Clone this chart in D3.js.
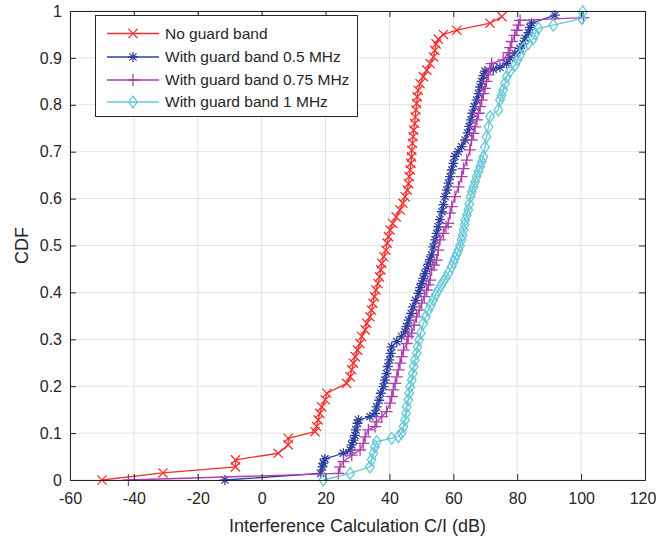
<!DOCTYPE html>
<html>
<head>
<meta charset="utf-8">
<script src="https://cdn.jsdelivr.net/npm/d3@7"></script>
<style>
  html, body { margin: 0; padding: 0; background: #fff; }
  svg { display: block; font-family: "Liberation Sans", Arial, sans-serif; }
</style>
</head>
<body>
<svg id="chart" width="656" height="544"></svg>
<script>
// ---------- DATA ----------
const xTicks = [-60, -40, -20, 0, 20, 40, 60, 80, 100, 120];
const xTickLabels = ["-60", "-40", "-20", "0", "20", "40", "60", "80", "100", "120"];
const yTicks = [0, 0.1, 0.2, 0.3, 0.4, 0.5, 0.6, 0.7, 0.8, 0.9, 1];
const yTickLabels = ["0", "0.1", "0.2", "0.3", "0.4", "0.5", "0.6", "0.7", "0.8", "0.9", "1"];

const seriesNames = ["No guard band", "With guard band 0.5 MHz", "With guard band 0.75 MHz", "With guard band 1 MHz"];

const noGuardX = [-50, -30.9, -8.2, -8.2, 5.2, 8.3, 8.3, 16.7, 17.2, 17.7, 18.2, 18.8, 19.9, 20.4,
  26.6, 27.7, 28.2, 28.7, 29.3, 30.0, 30.8, 31.3, 32.4, 32.9, 33.9, 34.4, 34.8, 35.3, 35.8, 36.4,
  36.9, 37.3, 37.6, 38.2, 38.9, 39.3, 39.7, 40.2, 41.0, 42.1, 43.3, 44.2, 44.9, 45.6, 46.0, 46.2,
  46.5, 46.7, 46.9, 47.0, 47.2, 47.4, 47.6, 47.9, 48.1, 48.3, 48.5, 48.7, 49.0, 49.6, 50.6, 51.7,
  52.7, 53.8, 54.2, 54.6, 55.3, 56.9, 61.1, 71.5, 75.2];
const noGuardCdf = [0, 0.015, 0.028, 0.043, 0.057, 0.075, 0.089, 0.103, 0.114, 0.128, 0.142, 0.156, 0.171, 0.185,
  0.206, 0.22, 0.235, 0.249, 0.263, 0.277, 0.291, 0.306, 0.32, 0.334, 0.348, 0.362, 0.377, 0.391, 0.405, 0.419,
  0.433, 0.448, 0.462, 0.476, 0.49, 0.505, 0.519, 0.533, 0.547, 0.561, 0.576, 0.59, 0.604, 0.618, 0.632, 0.647,
  0.661, 0.675, 0.689, 0.703, 0.718, 0.732, 0.746, 0.76, 0.774, 0.789, 0.803, 0.817, 0.831, 0.845, 0.86, 0.874,
  0.888, 0.902, 0.916, 0.93, 0.94, 0.95, 0.959, 0.974, 0.988];

const guard05X = [-11.5, 18.5, 19.0, 19.3, 19.8, 25.6, 27.7, 28.2, 28.7, 29.2, 29.5, 30.0, 30.3, 33.9,
  35.5, 36.0, 36.8, 37.3, 38.1, 38.6, 39.1, 39.5, 40.0, 40.4, 40.7, 42.3, 43.8, 44.9, 45.4, 46.0,
  46.8, 47.4, 48.2, 49.1, 49.6, 50.1, 50.6, 51.1, 51.7, 52.2, 52.7, 53.2, 53.7, 54.3, 54.8, 55.3,
  55.8, 56.4, 56.9, 57.4, 58.0, 58.5, 59.0, 59.5, 60.0, 60.5, 61.5, 62.6, 63.7, 64.5, 65.0, 65.5,
  66.0, 66.6, 67.3, 67.9, 68.4, 68.9, 69.4, 69.9, 72.5, 74.6, 76.7, 77.7, 79.3, 80.9, 81.9, 82.5,
  83.5, 84.0, 84.5, 91.8];
const guard05Cdf = [0, 0.014, 0.028, 0.036, 0.045, 0.057, 0.064, 0.075, 0.085, 0.095, 0.107, 0.121, 0.128, 0.135,
  0.142, 0.156, 0.17, 0.185, 0.199, 0.213, 0.227, 0.242, 0.256, 0.27, 0.284, 0.295, 0.306, 0.316, 0.327, 0.341,
  0.355, 0.369, 0.383, 0.398, 0.41, 0.419, 0.43, 0.44, 0.45, 0.46, 0.47, 0.48, 0.497, 0.512, 0.526, 0.54,
  0.555, 0.572, 0.587, 0.604, 0.618, 0.633, 0.647, 0.661, 0.675, 0.69, 0.70, 0.711, 0.725, 0.74, 0.754, 0.768,
  0.782, 0.796, 0.81, 0.824, 0.838, 0.85, 0.862, 0.872, 0.876, 0.88, 0.888, 0.9, 0.91, 0.92, 0.93, 0.942,
  0.954, 0.965, 0.974, 0.991];

const guard075X = [-41.7, 24.0, 24.5, 25.6, 28.2, 30.8, 31.8, 32.4, 33.4, 35.5, 36.0, 37.6, 39.1, 40.2,
  40.7, 41.2, 41.8, 42.3, 42.8, 43.3, 43.8, 44.4, 45.4, 45.9, 47.0, 47.7, 48.5, 49.3, 50.1, 50.9,
  51.7, 52.2, 52.7, 53.2, 54.0, 54.8, 55.3, 55.8, 56.9, 57.7, 58.4, 59.0, 59.5, 60.5, 61.6, 62.6,
  63.2, 64.2, 65.2, 65.7, 66.3, 66.8, 67.4, 67.9, 68.4, 68.9, 69.4, 69.9, 70.4, 71.0, 71.5, 72.0,
  75.6, 77.2, 77.8, 78.3, 79.2, 79.9, 80.4, 80.9, 100.7];
const guard075Cdf = [0, 0.014, 0.028, 0.039, 0.053, 0.064, 0.078, 0.092, 0.107, 0.114, 0.124, 0.135, 0.146, 0.164,
  0.178, 0.192, 0.206, 0.22, 0.235, 0.249, 0.263, 0.277, 0.291, 0.306, 0.313, 0.33, 0.348, 0.362, 0.377, 0.391,
  0.405, 0.416, 0.426, 0.448, 0.458, 0.469, 0.49, 0.512, 0.526, 0.54, 0.547, 0.569, 0.583, 0.604, 0.625, 0.647,
  0.664, 0.682, 0.704, 0.725, 0.739, 0.753, 0.768, 0.782, 0.796, 0.81, 0.824, 0.835, 0.85, 0.864, 0.878, 0.888,
  0.896, 0.911, 0.922, 0.935, 0.948, 0.959, 0.97, 0.98, 0.986];

const guard1X = [19.3, 27.7, 33.9, 34.4, 35.0, 35.5, 36.0, 40.7, 42.8, 43.8, 44.4, 44.9, 45.2, 45.4,
  45.9, 46.2, 46.5, 47.0, 47.3, 47.6, 48.0, 48.5, 48.8, 49.3, 49.8, 50.6, 51.4, 52.2, 53.0, 53.7,
  54.5, 55.3, 56.1, 56.9, 57.7, 58.4, 59.5, 60.0, 60.5, 61.1, 61.6, 62.1, 62.6, 62.9, 63.2, 63.5,
  63.7, 64.2, 64.7, 65.0, 65.4, 65.8, 66.3, 66.8, 67.3, 67.9, 68.4, 68.9, 69.4, 69.9, 70.4, 71.0,
  71.5, 74.1, 74.6, 75.1, 75.6, 76.2, 76.7, 77.7, 79.3, 80.1, 80.9, 81.9, 83.5, 85.0, 85.6, 86.6,
  91.3, 100.2, 100.5];
const guard1Cdf = [0, 0.014, 0.028, 0.043, 0.057, 0.071, 0.082, 0.089, 0.093, 0.1, 0.114, 0.128, 0.142, 0.156,
  0.171, 0.185, 0.199, 0.213, 0.227, 0.242, 0.256, 0.27, 0.284, 0.299, 0.313, 0.334, 0.348, 0.362, 0.373, 0.384,
  0.395, 0.405, 0.414, 0.423, 0.432, 0.441, 0.455, 0.464, 0.473, 0.482, 0.49, 0.5, 0.512, 0.522, 0.533, 0.544,
  0.554, 0.565, 0.576, 0.588, 0.604, 0.614, 0.625, 0.636, 0.647, 0.658, 0.668, 0.679, 0.689, 0.71, 0.732, 0.753,
  0.775, 0.789, 0.81, 0.82, 0.832, 0.846, 0.86, 0.871, 0.885, 0.896, 0.906, 0.92, 0.931, 0.941, 0.952, 0.963,
  0.97, 0.984, 0.998];

const seriesColors = ["#f52f2f", "#2f3f9e", "#ad3fad", "#66c8d4"];
const seriesMarkers = ["x", "star", "plus", "diamond"];

// ---------- CHART ----------
const svg = d3.select("#chart");
const x = d3.scaleLinear().domain([-60, 120]).range([70, 645]);
const y = d3.scaleLinear().domain([0, 1]).range([480, 11]);

const axisColor = "#262626";
const gridColor = "#e3e3e3";

// grid
const grid = svg.append("g");
grid.selectAll("line.gx").data(xTicks).join("line")
  .attr("x1", d => x(d)).attr("x2", d => x(d))
  .attr("y1", y(0)).attr("y2", y(1))
  .attr("stroke", gridColor).attr("stroke-width", 1);
grid.selectAll("line.gy").data(yTicks).join("line")
  .attr("y1", d => y(d)).attr("y2", d => y(d))
  .attr("x1", x(-60)).attr("x2", x(120))
  .attr("stroke", gridColor).attr("stroke-width", 1);

// marker path generator
function markerPath(type, s) {
  switch (type) {
    case "x": return `M${-s},${-s}L${s},${s}M${-s},${s}L${s},${-s}`;
    case "plus": return `M${-s},0L${s},0M0,${-s}L0,${s}`;
    case "star": {
      const d = s * 0.72;
      return `M${-s},0L${s},0M0,${-s}L0,${s}M${-d},${-d}L${d},${d}M${-d},${d}L${d},${-d}`;
    }
    case "diamond": {
      const w = s * 0.9, h = s * 1.25;
      return `M0,${-h}L${w},0L0,${h}L${-w},0Z`;
    }
  }
}
const markerSize = [4.6, 5.0, 6.0, 4.8];

const allSeries = [
  { xs: noGuardX, cs: noGuardCdf },
  { xs: guard05X, cs: guard05Cdf },
  { xs: guard075X, cs: guard075Cdf },
  { xs: guard1X, cs: guard1Cdf }
];

const line = d3.line().x(d => x(d[0])).y(d => y(d[1]));
const plot = svg.append("g");
allSeries.forEach((s, i) => {
  const pts = s.xs.map((v, k) => [v, s.cs[k]]);
  const g = plot.append("g");
  g.append("path").datum(pts).attr("d", line)
    .attr("fill", "none").attr("stroke", seriesColors[i]).attr("stroke-width", 1.3);
  g.selectAll("path.m").data(pts).join("path")
    .attr("class", "m")
    .attr("transform", d => `translate(${x(d[0])},${y(d[1])})`)
    .attr("d", markerPath(seriesMarkers[i], markerSize[i]))
    .attr("fill", "none").attr("stroke", seriesColors[i]).attr("stroke-width", 1.3);
});

// axes
const fmtX = (d, i) => xTickLabels[i];
const fmtY = (d, i) => yTickLabels[i];
const gx = svg.append("g").attr("transform", `translate(0,${y(0)})`)
  .call(d3.axisBottom(x).tickValues(xTicks).tickFormat(fmtX).tickSizeInner(-6).tickSizeOuter(0).tickPadding(13));
const gxt = svg.append("g").attr("transform", `translate(0,${y(1)})`)
  .call(d3.axisTop(x).tickValues(xTicks).tickFormat("").tickSizeInner(-6).tickSizeOuter(0));
const gy = svg.append("g").attr("transform", `translate(${x(-60)},0)`)
  .call(d3.axisLeft(y).tickValues(yTicks).tickFormat(fmtY).tickSizeInner(-6).tickSizeOuter(0).tickPadding(8));
const gyr = svg.append("g").attr("transform", `translate(${x(120)},0)`)
  .call(d3.axisRight(y).tickValues(yTicks).tickFormat("").tickSizeInner(-6).tickSizeOuter(0));

[gx, gxt, gy, gyr].forEach(g => {
  g.select(".domain").attr("stroke", axisColor).attr("stroke-width", 1);
  g.selectAll(".tick line").attr("stroke", axisColor).attr("stroke-width", 1);
  g.selectAll(".tick text").attr("fill", axisColor)
    .style("font-size", "16px").style("font-family", "'Liberation Sans', Arial, sans-serif");
});
// keep the last x tick label inside the 656 px frame
gx.selectAll(".tick text").filter((d, i) => i === xTicks.length - 1).attr("dx", "-2.5");

// axis labels
svg.append("text")
  .attr("x", (x(-60) + x(120)) / 2).attr("y", 532)
  .attr("text-anchor", "middle").attr("fill", axisColor)
  .style("font-size", "18px")
  .text("Interference Calculation C/I (dB)");
svg.append("text")
  .attr("transform", `translate(28,${(y(0) + y(1)) / 2}) rotate(-90)`)
  .attr("text-anchor", "middle").attr("fill", axisColor)
  .style("font-size", "18px")
  .text("CDF");

// legend
const lg = svg.append("g");
lg.append("rect").attr("x", 95.5).attr("y", 15.5).attr("width", 262).attr("height", 101)
  .attr("fill", "#fff").attr("stroke", axisColor).attr("stroke-width", 1);
const rowY = [33.5, 57, 80, 102];
seriesNames.forEach((name, i) => {
  const ry = rowY[i];
  lg.append("line").attr("x1", 107).attr("x2", 159).attr("y1", ry).attr("y2", ry)
    .attr("stroke", seriesColors[i]).attr("stroke-width", 1.3);
  lg.append("path").attr("transform", `translate(133,${ry})`)
    .attr("d", markerPath(seriesMarkers[i], markerSize[i]))
    .attr("fill", "none").attr("stroke", seriesColors[i]).attr("stroke-width", 1.3);
  lg.append("text").attr("x", 165).attr("y", ry).attr("dy", "0.35em")
    .attr("fill", axisColor).style("font-size", "15.5px").text(name);
});
</script>
</body>
</html>
